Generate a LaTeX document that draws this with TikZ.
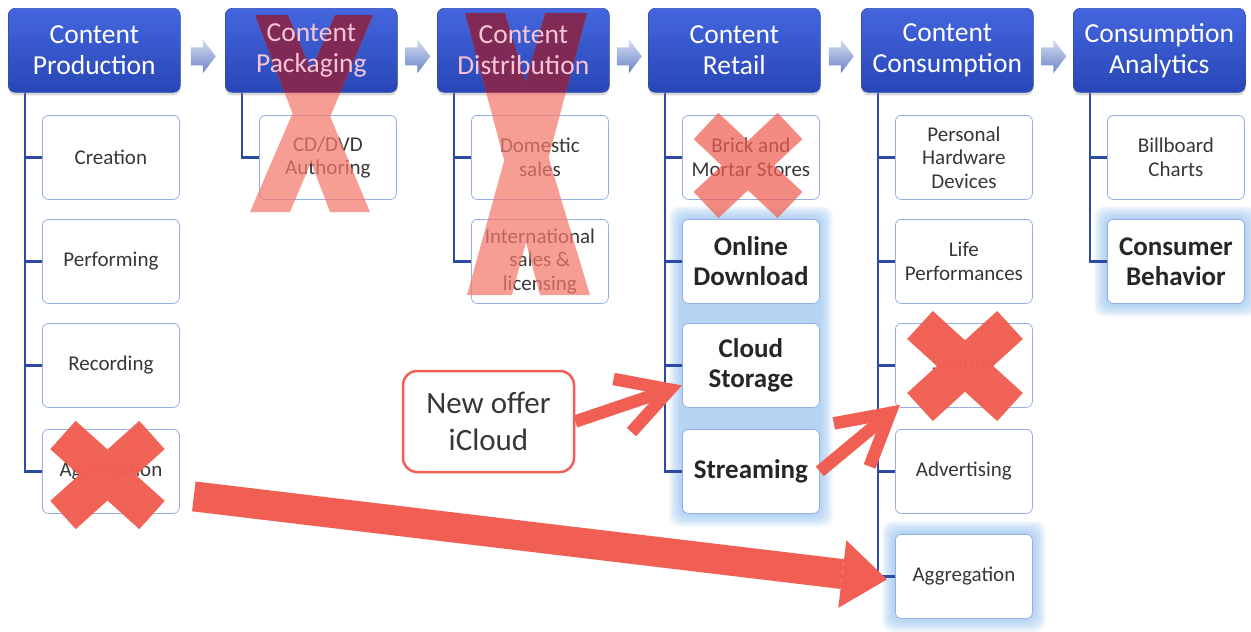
\documentclass[tikz,border=0pt]{standalone}
\usepackage{fontspec}
\setmainfont{Carlito}
\usetikzlibrary{arrows.meta,shadows,calc}
\definecolor{hblue}{RGB}{45,75,180}
\definecolor{hbluetop}{RGB}{68,102,222}
\definecolor{hbluebot}{RGB}{40,70,182}
\definecolor{treec}{RGB}{45,75,165}
\definecolor{bordc}{RGB}{150,175,230}
\definecolor{xred}{RGB}{241,95,84}
\definecolor{xpink}{RGB}{243,120,108}
\definecolor{xdark}{RGB}{118,30,78}
\definecolor{txt}{RGB}{55,55,55}
\definecolor{btxt}{RGB}{38,38,38}
\definecolor{glowc}{RGB}{140,190,240}
\definecolor{chevtop}{RGB}{215,222,242}
\definecolor{chevbot}{RGB}{105,130,200}
\definecolor{hpink}{RGB}{246,196,212}
\pgfdeclarelayer{bg}
\pgfdeclarelayer{fg}
\pgfsetlayers{bg,main,fg}
\tikzset{
  hdr/.style={anchor=north west, minimum width=172pt, minimum height=84pt,
    rounded corners=7pt, top color=hbluetop, bottom color=hbluebot,
    draw=hblue, line width=0.6pt, text=white, align=flush center, inner sep=0pt,
    font=\fontsize{27.5}{31}\selectfont,
    drop shadow={shadow xshift=0pt, shadow yshift=-3pt, opacity=0.3}},
  htxt/.style={align=flush center, inner sep=0pt, font=\fontsize{27.5}{31}\selectfont},
  bx/.style={anchor=north west, minimum width=137pt, minimum height=84pt,
    rounded corners=6pt, draw=bordc, line width=0.8pt, fill=white, text=txt,
    align=flush center, inner sep=2pt, text width=133pt,
    font=\fontsize{21}{23.5}\selectfont},
  bbx/.style={bx, text=btxt, font=\bfseries\fontsize{27}{30}\selectfont},
  callout/.style={minimum width=171pt, minimum height=101pt, rounded corners=14pt,
    draw=xred, line width=2.5pt, fill=white, text=txt, align=flush center,
    font=\fontsize{31}{37}\selectfont},
  treeline/.style={draw=treec, line width=2.6pt},
  chev/.style={top color=chevtop, bottom color=chevbot},
  xsolid/.style={draw=xred, line width=38pt, opacity=0.98},
  bigarrow/.style={draw=xred, line width=30pt, -{Triangle[length=45pt,width=68pt,line width=0pt]}},
  barbarrow/.style={draw=xred, line width=12.5pt, -{Straight Barb[length=50pt,width=56pt]}},
}
\newcommand\glowbox[2]{\foreach \g in {1,...,10}{\fill[glowc,opacity=0.09,rounded corners=10pt] ($(#1)+(-\g*1.3,-\g*1.3)$) rectangle ($(#2)+(\g*1.3,\g*1.3)$);}}
\begin{document}
\begin{tikzpicture}[x=1pt,y=-1pt]
\useasboundingbox (0,0) rectangle (1251,632);

% headers
\node[hdr] (h1) at (8,8) {Content\\Production};
\node[hdr] (h2) at (225,8) {};
\node[hdr] (h3) at (437,8) {};
\node[hdr] (h4) at (648,8) {Content\\Retail};
\node[hdr] (h5) at (861,8) {Content\\Consumption};
\node[hdr] (h6) at (1073,8) {Consumption\\Analytics};

% boxes
\node[bx] (p1) at (42,115) {Creation};
\node[bx] (p2) at (42,219) {Performing};
\node[bx] (p3) at (42,323) {Recording};
\node[bx] (p4) at (42,429) {Aggregation};
\node[bx] (k1) at (259,115) {CD/DVD\\Authoring};
\node[bx] (d1) at (471,115) {Domestic\\sales};
\node[bx] (d2) at (471,219) {International\\sales \&\\licensing};
\node[bx] (r1) at (682,115) {Brick and\\Mortar Stores};
\node[bbx] (r2) at (682,219) {Online\\Download};
\node[bbx] (r3) at (682,323) {Cloud\\Storage};
\node[bbx] (r4) at (682,429) {Streaming};
\node[bx] (c1) at (895,115) {Personal\\Hardware\\Devices};
\node[bx] (c2) at (895,219) {Life\\Performances};
\node[bx] (c3) at (895,323) {Sharing};
\node[bx] (c4) at (895,429) {Advertising};
\node[bx] (c5) at (895,534) {Aggregation};
\node[bx] (a1) at (1107,115) {Billboard\\Charts};
\node[bbx] (a2) at (1107,219) {Consumer\\Behavior};

\node[callout] (offer) at (488.5,421.5) {New offer\\iCloud};

% background, glow and tree lines
\begin{pgfonlayer}{bg}
\fill[white] (0,0) rectangle (1251,632);
\glowbox{r2.north west}{r4.south east}
\glowbox{a2.north west}{a2.south east}
\glowbox{c5.north west}{c5.south east}
\foreach \b in {p1,p2,p3,p4} \draw[treeline] ($(h1.south west)+(17,0)$) |- (\b.west);
\draw[treeline] ($(h2.south west)+(17,0)$) |- (k1.west);
\foreach \b in {d1,d2} \draw[treeline] ($(h3.south west)+(17,0)$) |- (\b.west);
\foreach \b in {r1,r2,r3,r4} \draw[treeline] ($(h4.south west)+(17,0)$) |- (\b.west);
\foreach \b in {c1,c2,c3,c4,c5} \draw[treeline] ($(h5.south west)+(17,0)$) |- (\b.west);
\foreach \b in {a1,a2} \draw[treeline] ($(h6.south west)+(17,0)$) |- (\b.west);
\end{pgfonlayer}

% chevrons between headers
\foreach \a/\b in {h1/h2,h2/h3,h3/h4,h4/h5,h5/h6} {
  \coordinate (m) at ($(\a.east)!0.5!(\b.west)+(0,6)$);
  \shade[chev] ($(m)+(-12,-9)$) -- ($(m)+(0,-9)$) -- ($(m)+(0,-17)$) -- ($(m)+(13,0)$)
    -- ($(m)+(0,17)$) -- ($(m)+(0,9)$) -- ($(m)+(-12,9)$) -- cycle;
}

% translucent crosses (packaging, distribution)
\fill[xpink, opacity=0.72] (255,15) -- (288,15) -- (370,212) -- (330,212) -- cycle
  (335,15) -- (373,15) -- (290,212) -- (250,212) -- cycle;
\fill[xpink, opacity=0.72] (465,13) -- (505,13) -- (590,295) -- (540,295) -- cycle
  (545,13) -- (587,13) -- (512,295) -- (467,295) -- cycle;
\begin{scope}
  \clip[rounded corners=7pt] (h2.north west) rectangle (h2.south east);
  \fill[xdark, opacity=0.85] (255,15) -- (288,15) -- (370,212) -- (330,212) -- cycle
    (335,15) -- (373,15) -- (290,212) -- (250,212) -- cycle;
\end{scope}
\begin{scope}
  \clip[rounded corners=7pt] (h3.north west) rectangle (h3.south east);
  \fill[xdark, opacity=0.85] (465,13) -- (505,13) -- (590,295) -- (540,295) -- cycle
    (545,13) -- (587,13) -- (512,295) -- (467,295) -- cycle;
\end{scope}

% brick X (translucent)
\draw[xsolid, line width=36pt, opacity=0.72] (706,126) -- (790,205) (790,126) -- (706,205);

% solid crosses
\draw[xsolid] (63,435) -- (152,515) (152,435) -- (63,515);
\draw[xsolid] (920,325) -- (1010,407) (1010,325) -- (920,407);

% arrows
\draw[barbarrow] (offer.east) -- ([yshift=-20pt]r3.west);
\draw[barbarrow] (r4.east) -- ([xshift=5pt,yshift=3pt]c3.south west);
\coordinate (bigstart) at ([xshift=14pt,yshift=-25pt]p4.east);
\draw[bigarrow] (bigstart) -- ([xshift=-8pt,yshift=-3pt]c5.west);

% header texts over crosses
\begin{pgfonlayer}{fg}
\node[htxt, text=hpink] (t2) at (h2.center) {Content\\Packaging};
\node[htxt, text=hpink] (t3) at (h3.center) {Content\\Distribution};
\end{pgfonlayer}
\end{tikzpicture}
\end{document}
